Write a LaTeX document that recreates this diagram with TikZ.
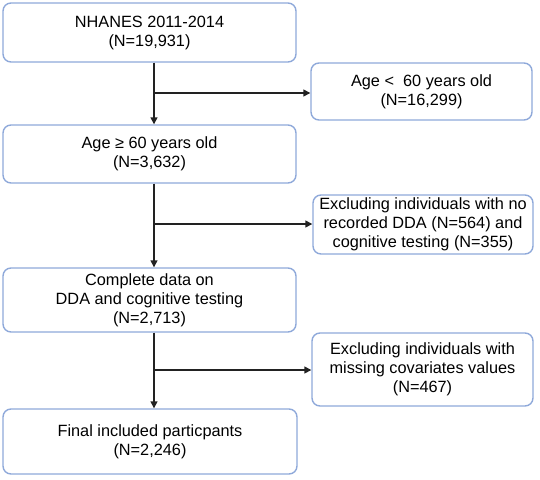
\documentclass[tikz,border=0pt]{standalone}
\usepackage{fontspec}
\setmainfont{Liberation Sans}
\usetikzlibrary{arrows.meta}
\definecolor{boxblue}{HTML}{8FA9DA}
\definecolor{arrowgray}{HTML}{222222}
\tikzset{
  flowbox/.style={draw=boxblue, line width=1.4pt, rounded corners=8pt, fill=white,
    align=center, inner sep=0pt, font=\fontsize{16.3}{19}\selectfont, text=black},
  flowarrow/.style={draw=arrowgray, line width=1.4pt, -{Triangle[length=7pt,width=7pt]}}
}
\begin{document}
\begin{tikzpicture}[x=1pt,y=-1pt]
\useasboundingbox (0,0) rectangle (540,479);
\node[flowbox, minimum width=293pt, minimum height=59pt] (b1) at (149.5,32.5) {NHANES 2011-2014\\(N=19,931)};
\node[flowbox, minimum width=221pt, minimum height=57pt] (b2) at (421.5,91.5) {Age <\ \ 60 years old\\(N=16,299)};
\node[flowbox, minimum width=293pt, minimum height=58pt] (b3) at (149.5,154) {Age ≥ 60 years old\\(N=3,632)};
\node[flowbox, minimum width=220pt, minimum height=59pt] (e2) at (423,224.5) {Excluding individuals with no\\recorded DDA (N=564) and\\cognitive testing (N=355)};
\node[flowbox, minimum width=293pt, minimum height=64pt] (b4) at (149.5,300) {Complete data on\\DDA and cognitive testing\\(N=2,713)};
\node[flowbox, minimum width=221pt, minimum height=73pt] (e3) at (422.5,369.5) {Excluding individuals with\\missing covariates values\\(N=467)};
\node[flowbox, minimum width=294pt, minimum height=65pt] (b5) at (150,441.5) {Final included particpants\\(N=2,246)};
\coordinate (j1) at (154,93);
\coordinate (j2) at (154,224);
\coordinate (j3) at (154,370);
\draw[flowarrow] (b1.south -| j1) -- (b3.north -| j1);
\draw[flowarrow] (j1) -- (j1 -| b2.west);
\draw[flowarrow] (b3.south -| j2) -- (b4.north -| j2);
\draw[flowarrow] (j2) -- (j2 -| e2.west);
\draw[flowarrow] (b4.south -| j3) -- (b5.north -| j3);
\draw[flowarrow] (j3) -- (j3 -| e3.west);
\end{tikzpicture}
\end{document}
